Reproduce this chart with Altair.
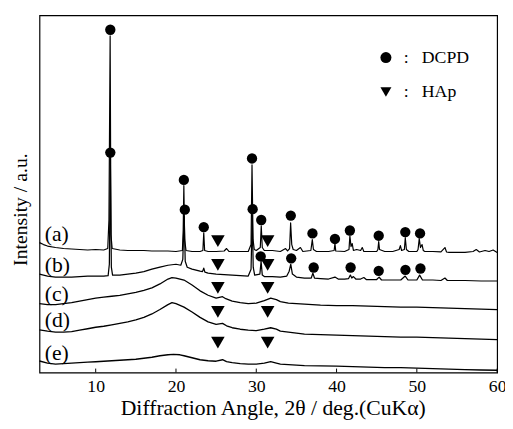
import altair as alt
import pandas as pd

# ---------------- data ----------------
# 2theta (deg) and intensity (arbitrary units, stacked offsets included)
ang_a = [3.0, 3.5, 4, 5, 6, 7, 8, 9, 10, 11, 11.5, 11.65, 11.8, 11.9, 12.05, 13, 14, 15, 16, 17, 18, 19, 20,
         20.8, 20.9, 20.98, 21.08, 21.25, 22, 23, 23.35, 23.46, 23.57, 24, 25, 26, 26.3, 26.6, 27, 28, 29,
         29.35, 29.47, 29.6, 29.75, 30, 30.5, 30.62, 30.75, 31, 32, 33, 33.65, 33.9, 34.15, 34.28, 34.42, 34.6,
         35, 35.5, 35.8, 36.8, 36.98, 37.12, 37.5, 38, 39, 39.7, 39.8, 39.9, 41, 41.55, 41.66, 41.8, 41.95,
         42.1, 42.5, 43, 43.2, 43.4, 44, 45, 45.15, 45.25, 45.35, 46, 47, 47.8, 47.95, 48.1, 48.45, 48.56, 48.7,
         49, 50, 50.15, 50.3, 50.45, 50.65, 50.8, 51, 52, 53, 53.5, 53.7, 54, 55, 56, 57, 57.4, 57.8, 58.5,
         59, 59.5, 60]
int_a = [132, 130, 128.5, 127, 126, 125.5, 125, 124.5, 125, 124.5, 126, 155, 342, 140, 126, 124.5, 124, 124, 124,
         123.5, 123.5, 123.5, 123, 124, 145, 190, 135, 124, 123, 123, 124, 142, 124, 123, 123, 123.5, 126, 123,
         123, 123, 123, 130, 211, 135, 125, 124, 127, 149, 127, 124, 124, 123, 126, 123.5, 126, 152, 130, 125,
         124, 127, 123, 124, 135, 125, 123, 123, 123, 124, 131, 123.5, 123, 125, 139, 128, 131, 124, 125, 124,
         127, 123, 123, 123, 125, 133, 125, 123, 123, 125, 129, 124, 125, 137, 125, 123, 123, 125, 136, 127,
         130, 124, 123, 123, 122.5, 127, 122.5, 122, 122, 122, 123, 125, 122.5, 124, 123, 124.5, 122]

ang_b = [3, 4, 5, 6, 7, 8, 9, 10, 11, 11.55, 11.7, 11.82, 11.95, 12.1, 13, 14, 15, 16, 17, 18, 19, 20, 20.6,
         20.85, 21.02, 21.15, 21.4, 22, 23, 23.3, 23.46, 23.6, 24, 25, 26, 27, 28, 29, 29.35, 29.5, 29.62, 29.8,
         30.45, 30.6, 30.75, 31, 32, 33, 33.8, 34.1, 34.3, 34.5, 35, 36, 36.85, 37.05, 37.25, 38, 39, 39.8, 40.2,
         41, 41.5, 41.72, 41.9, 42.1, 42.4, 43, 43.4, 43.7, 44, 45, 45.3, 45.6, 46, 47, 48, 48.55, 48.9, 50,
         50.35, 50.7, 52, 53, 53.5, 53.8, 56, 58, 60]
int_b = [100, 98, 97, 97, 97, 97.5, 98, 98, 98, 98.5, 110, 218, 107, 99, 99, 100, 101, 102.5, 105, 107, 109, 110,
         109, 115, 159, 113, 107, 105, 103, 102.5, 106, 102, 101, 100, 99.5, 99, 98.5, 98, 105, 160, 107, 99,
         100, 113, 99, 97.5, 97.5, 97, 98, 103, 110, 100, 97, 96, 96, 101, 96, 95.5, 95, 97, 95, 95, 95.5, 99,
         96, 97.5, 95, 95, 96.5, 94.5, 94.5, 94.5, 97, 94, 94, 94, 94, 98, 94, 94, 99, 94, 94, 93.5, 96, 93.5,
         93.5, 93, 93]

ang_c = [3, 4, 5, 6, 7, 8, 9, 10, 11, 12, 13, 14, 15, 16, 17, 18, 19, 19.5, 20, 21, 22, 23, 24, 25, 25.8, 26.2,
         27, 28, 29, 30, 31, 31.8, 32.5, 33, 34, 35, 36, 38, 40, 42, 44, 46, 48, 50, 52, 54, 56, 58, 60]
int_c = [70, 69, 69, 70, 71, 72.5, 74, 75.5, 76.5, 77.5, 78.5, 80, 81.5, 83.5, 86, 90, 95, 96.5, 96, 94, 89, 83,
         78.5, 75.5, 77, 75, 72.5, 71, 70, 70.5, 73, 75.5, 74, 72, 70.5, 70, 69.5, 68.5, 68, 68, 67.5, 67, 66.5,
         66.5, 66, 65.5, 65, 64.5, 64]

ang_d = [3, 4, 5, 6, 7, 8, 9, 10, 11, 12, 13, 14, 15, 16, 17, 18, 19, 19.5, 20, 21, 22, 23, 24, 25, 25.8, 26.3,
         27, 28, 29, 30, 31, 31.8, 32.5, 33, 34, 35, 36, 38, 40, 42, 44, 46, 48, 50, 52, 54, 56, 58, 60]
int_d = [43.3, 42, 41, 41, 41.5, 43, 44.5, 46, 47, 48.5, 50, 51.5, 53.5, 56, 59.5, 64, 69, 71, 70, 66.5, 61.5, 56,
         51.5, 49, 50, 47.5, 45.5, 44, 43, 42.5, 44, 45.5, 44, 42, 41, 40, 39, 38.5, 38, 37.5, 37, 36.5, 36, 36,
         35.5, 35, 34.5, 34, 33.5]

ang_e = [3, 4, 5, 6, 7, 8, 9, 10, 11, 12, 13, 14, 15, 16, 17, 18, 19, 19.7, 20.5, 21, 22, 23, 24, 25, 25.8, 26.3,
         27, 28, 29, 30, 31, 31.8, 32.5, 33, 34, 35, 36, 38, 40, 42, 44, 46, 48, 50, 52, 54, 56, 58, 60]
int_e = [11.7, 9.5, 8.5, 9, 9.5, 10, 10.5, 11, 11.5, 12, 12.5, 13, 13.5, 14.5, 15.5, 17, 18, 18.5, 18, 17, 15, 13,
         12, 11.5, 13, 11, 10, 9, 8.5, 8.5, 9.5, 11, 9.5, 8.5, 8, 7.5, 7, 6.7, 6.5, 6, 5.5, 5, 5, 4.5, 4, 3.5,
         3, 2.5, 2.3]

trace_names = ["(a)", "(b)", "(c)", "(d)", "(e)"]
trace_label_y = [141, 109.5, 80, 53.5, 20]

# phase markers
dcpd_ang = [11.82, 20.98, 23.46, 29.47, 30.62, 34.3, 37.0, 39.8, 41.66, 45.25, 48.56, 50.4,
            11.82, 21.1, 29.55, 30.55, 34.35, 37.15, 41.75, 45.25, 48.58, 50.45]
dcpd_int = [348.3, 195.7, 147.7, 217.5, 155, 159.5, 141.3, 135.7, 144.3, 139, 142.7, 141.3,
            223.5, 165.5, 166, 118, 116, 106.7, 106.7, 103.3, 104.3, 105.7]
hap_ang = [25.22, 31.42] * 5
hap_int = [133.5, 133.5, 109.5, 109.5, 86, 86, 61.5, 61.5, 30.5, 30.5]

tick_values = [10, 20, 30, 40, 50, 60]

# ---------------- tables ----------------
frames = []
for name, a, i in zip(trace_names, [ang_a, ang_b, ang_c, ang_d, ang_e],
                      [int_a, int_b, int_c, int_d, int_e]):
    frames.append(pd.DataFrame({"angle": a, "intensity": i, "trace": name}))
traces = pd.concat(frames, ignore_index=True)

markers = pd.concat([
    pd.DataFrame({"angle": dcpd_ang, "intensity": dcpd_int, "phase": "DCPD"}),
    pd.DataFrame({"angle": hap_ang, "intensity": hap_int, "phase": "HAp"}),
], ignore_index=True)

labels = pd.DataFrame({"angle": [3.65] * 5, "intensity": trace_label_y, "trace": trace_names})
ticks = pd.DataFrame({"angle": tick_values})

FONT = "Liberation Serif"

x_enc = alt.X("angle:Q",
              scale=alt.Scale(domain=[3, 60], nice=False, zero=False),
              axis=alt.Axis(values=tick_values, title="Diffraction Angle, 2θ / deg.(CuKα)",
                            labelFont=FONT, labelFontSize=18, labelColor="black", labelPadding=5,
                            titleFont=FONT, titleFontSize=22, titleFontWeight="normal",
                            titleColor="black", titlePadding=3, titleX=237, ticks=False, domain=False,
                            grid=False, labelFlush=False))
y_enc = alt.Y("intensity:Q",
              scale=alt.Scale(domain=[0, 363], nice=False, zero=False),
              axis=alt.Axis(title="Intensity / a.u.", labels=False, ticks=False, domain=False,
                            grid=False, titleFont=FONT, titleFontSize=20, titleFontWeight="normal",
                            titleColor="black", titlePadding=9, titleY=197))

lines = alt.Chart(traces).mark_line(color="black", strokeJoin="round").encode(
    x=x_enc, y=y_enc,
    detail="trace:N",
    strokeWidth=alt.StrokeWidth("trace:N",
                                scale=alt.Scale(domain=trace_names, range=[1.2, 1.4, 2.3, 2.3, 2.3]),
                                legend=None),
    order="angle:Q",
)

points = alt.Chart(markers).mark_point(filled=True, color="black", opacity=1).encode(
    x=x_enc, y=y_enc,
    shape=alt.Shape("phase:N",
                    scale=alt.Scale(domain=["DCPD", "HAp"], range=["circle", "triangle-down"]),
                    legend=alt.Legend(orient="none", legendX=343, legendY=34, title=None,
                                      labelFont=FONT, labelFontSize=18, labelColor="black",
                                      symbolSize=125, symbolFillColor="black", symbolStrokeWidth=0,
                                      symbolOpacity=1, labelOffset=9, rowPadding=17, padding=0,
                                      labelExpr="':\u00a0\u00a0\u00a0' + datum.label")),
    size=alt.condition(alt.datum.phase == "HAp", alt.value(190), alt.value(110)),
)

texts = alt.Chart(labels).mark_text(align="left", baseline="middle", font=FONT, fontSize=22,
                                    color="black").encode(
    x=x_enc, y=y_enc, text="trace:N")

tick_rules = alt.Chart(ticks).mark_rule(color="black", strokeWidth=1).encode(
    x=x_enc, y=alt.value(363), y2=alt.value(359))

chart = alt.layer(lines, points, texts, tick_rules).properties(
    width=465, height=363,
    autosize=alt.AutoSizeParams(type="none"),
    padding={"left": 32, "top": 4, "right": 8, "bottom": 54},
    background="white",
).configure_view(stroke="black", strokeWidth=1.2)

chart.save("out.html", embed_options={"renderer": "svg", "actions": False})
